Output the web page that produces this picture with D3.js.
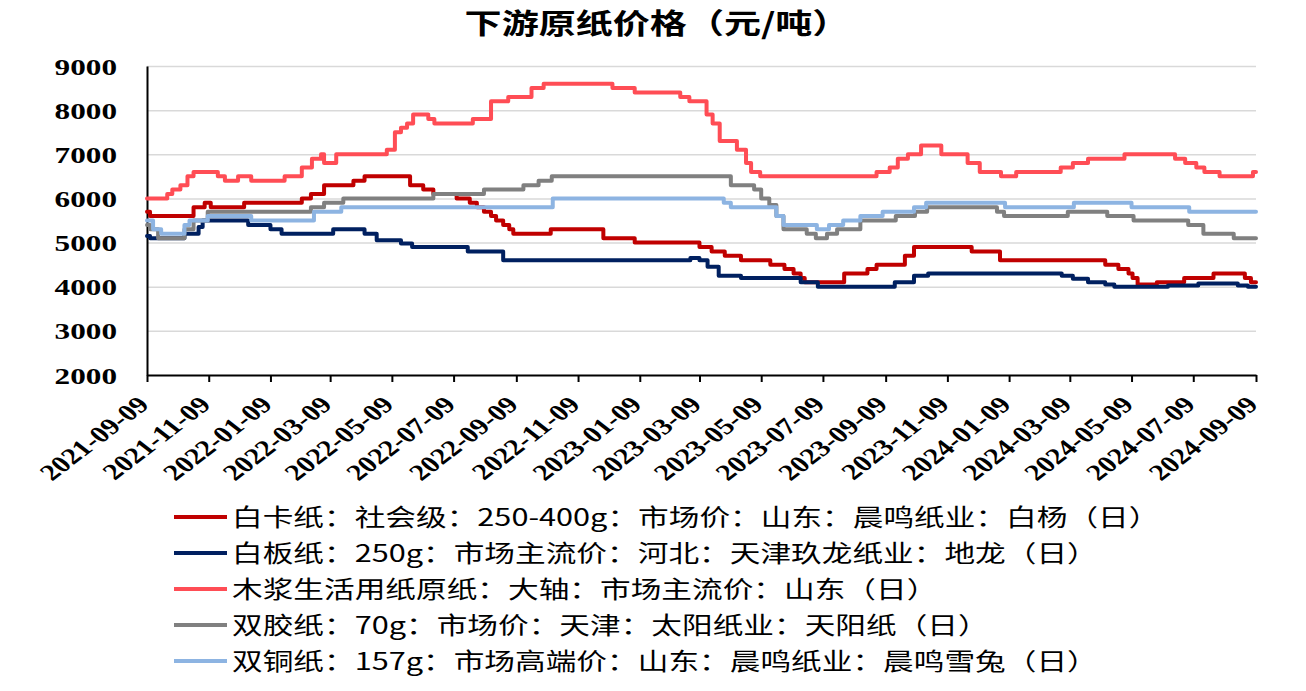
<!DOCTYPE html>
<html><head><meta charset="utf-8">
<script src="https://cdn.jsdelivr.net/npm/d3@7"></script>
<style>
html,body{margin:0;padding:0;background:#fff;}
svg{display:block;}
</style></head>
<body>
<svg id="chart" width="1306" height="691"></svg>
<script>
// ---------- data ----------
const chartTitle = "下游原纸价格（元/吨）";
const yTicks = [2000, 3000, 4000, 5000, 6000, 7000, 8000, 9000];
const xTickLabels = ["2021-09-09","2021-11-09","2022-01-09","2022-03-09","2022-05-09","2022-07-09",
  "2022-09-09","2022-11-09","2023-01-09","2023-03-09","2023-05-09","2023-07-09","2023-09-09",
  "2023-11-09","2024-01-09","2024-03-09","2024-05-09","2024-07-09","2024-09-09"];
const seriesNames = [
  "白卡纸：社会级：250-400g：市场价：山东：晨鸣纸业：白杨（日）",
  "白板纸：250g：市场主流价：河北：天津玖龙纸业：地龙（日）",
  "木浆生活用纸原纸：大轴：市场主流价：山东（日）",
  "双胶纸：70g：市场价：天津：太阳纸业：天阳纸（日）",
  "双铜纸：157g：市场高端价：山东：晨鸣纸业：晨鸣雪兔（日）"
];
const seriesColors = ["#C00000", "#002060", "#FF4D55", "#808080", "#8DB4E2"];

// step-change points [date, price]
const whiteCard = [
  ["2021-09-09",5700],["2021-09-12",5600],["2021-10-25",5800],["2021-11-05",5900],["2021-11-11",5800],
  ["2021-12-14",5900],["2022-02-09",6000],["2022-02-18",6100],["2022-03-03",6300],["2022-04-01",6400],
  ["2022-04-12",6500],["2022-05-27",6300],["2022-06-09",6200],["2022-06-19",6100],["2022-07-12",6000],
  ["2022-07-25",5900],["2022-08-01",5800],["2022-08-08",5700],["2022-08-15",5600],["2022-08-20",5500],
  ["2022-08-27",5400],["2022-09-02",5300],["2022-09-06",5200],["2022-10-13",5300],["2022-12-04",5100],
  ["2023-01-04",5000],["2023-03-09",4900],["2023-03-21",4800],["2023-04-03",4700],["2023-04-19",4600],
  ["2023-05-18",4500],["2023-06-01",4400],["2023-06-10",4300],["2023-06-17",4200],["2023-06-21",4100],
  ["2023-07-30",4300],["2023-08-22",4400],["2023-08-31",4500],["2023-09-28",4700],["2023-10-07",4900],
  ["2023-12-03",4800],["2023-12-31",4600],["2024-04-13",4500],["2024-04-26",4400],["2024-05-06",4300],
  ["2024-05-10",4200],["2024-05-15",4050],["2024-06-03",4100],["2024-06-30",4200],["2024-07-29",4300],
  ["2024-08-29",4200],["2024-09-04",4100],["2024-09-09",4100]
];
const whiteBoard = [
  ["2021-09-09",5150],["2021-09-12",5100],["2021-10-16",5200],["2021-10-30",5350],["2021-11-03",5500],
  ["2021-12-18",5400],["2022-01-09",5300],["2022-01-20",5200],["2022-03-12",5300],["2022-04-12",5200],
  ["2022-04-24",5050],["2022-05-18",4980],["2022-05-29",4900],["2022-07-23",4800],["2022-08-27",4600],
  ["2023-02-28",4650],["2023-03-09",4600],["2023-03-17",4450],["2023-03-28",4250],["2023-04-19",4200],
  ["2023-06-17",4100],["2023-07-04",4000],["2023-09-18",4100],["2023-10-07",4250],["2023-10-21",4300],
  ["2024-03-01",4250],["2024-03-12",4180],["2024-03-27",4100],["2024-04-13",4050],["2024-04-22",4000],
  ["2024-06-14",4030],["2024-07-14",4070],["2024-08-22",4030],["2024-09-01",4000],["2024-09-09",4000]
];
const pulpTissue = [
  ["2021-09-09",6000],["2021-09-29",6100],["2021-10-04",6200],["2021-10-12",6300],["2021-10-19",6500],
  ["2021-10-25",6600],["2021-11-18",6500],["2021-11-25",6400],["2021-12-08",6500],["2021-12-21",6400],
  ["2022-01-23",6500],["2022-02-09",6700],["2022-02-19",6900],["2022-02-28",7000],["2022-03-03",6800],
  ["2022-03-15",7000],["2022-05-04",7100],["2022-05-12",7500],["2022-05-18",7600],["2022-05-24",7700],
  ["2022-05-30",7900],["2022-06-14",7800],["2022-06-20",7700],["2022-07-28",7800],["2022-08-15",8200],
  ["2022-09-01",8300],["2022-09-24",8500],["2022-10-06",8600],["2022-12-13",8500],["2023-01-04",8400],
  ["2023-02-18",8300],["2023-02-27",8200],["2023-03-16",7900],["2023-03-22",7700],["2023-03-29",7300],
  ["2023-04-15",7100],["2023-04-24",6800],["2023-04-29",6600],["2023-05-08",6500],["2023-08-31",6600],
  ["2023-09-13",6700],["2023-09-21",6900],["2023-10-01",7000],["2023-10-14",7200],["2023-11-03",7000],
  ["2023-11-29",6800],["2023-12-11",6600],["2024-01-01",6500],["2024-01-16",6600],["2024-02-29",6700],
  ["2024-03-12",6800],["2024-03-27",6900],["2024-05-02",7000],["2024-06-21",6900],["2024-07-01",6800],
  ["2024-07-12",6700],["2024-07-20",6600],["2024-08-04",6500],["2024-09-06",6600],["2024-09-09",6600]
];
const woodfree = [
  ["2021-09-09",5400],["2021-09-12",5300],["2021-09-20",5100],["2021-10-16",5300],["2021-10-25",5500],
  ["2021-11-08",5700],["2022-02-18",5800],["2022-03-03",5900],["2022-03-22",6000],["2022-06-19",6100],
  ["2022-08-08",6200],["2022-09-16",6300],["2022-10-01",6400],["2022-10-14",6500],["2023-04-09",6300],
  ["2023-05-02",6200],["2023-05-09",6000],["2023-05-17",5850],["2023-05-24",5600],["2023-05-31",5300],
  ["2023-06-23",5200],["2023-07-02",5100],["2023-07-13",5200],["2023-07-23",5300],["2023-08-15",5500],
  ["2023-09-19",5600],["2023-10-08",5700],["2023-10-20",5800],["2023-12-28",5700],["2024-01-04",5600],
  ["2024-03-07",5700],["2024-04-15",5600],["2024-05-11",5500],["2024-07-04",5400],["2024-07-19",5200],
  ["2024-08-18",5100],["2024-09-09",5100]
];
const coated = [
  ["2021-09-09",5500],["2021-09-15",5300],["2021-09-23",5200],["2021-10-16",5400],["2021-10-21",5500],
  ["2021-11-08",5600],["2021-12-21",5500],["2022-02-21",5700],["2022-03-20",5800],["2022-10-15",6000],
  ["2023-04-02",5900],["2023-04-09",5800],["2023-05-24",5600],["2023-05-31",5400],["2023-07-03",5300],
  ["2023-07-15",5400],["2023-07-29",5500],["2023-08-15",5600],["2023-09-06",5700],["2023-10-07",5800],
  ["2023-10-19",5900],["2024-01-05",5800],["2024-03-13",5900],["2024-05-09",5800],["2024-07-05",5700],
  ["2024-09-09",5700]
];
const seriesData = [whiteCard, whiteBoard, pulpTissue, woodfree, coated];

// ---------- drawing ----------
const svg = d3.select("#chart");
const parse = d3.timeParse("%Y-%m-%d");
const SX = 1.3; // horizontal stretch of the reference text
const plotL = 147, plotR = 1256, plotT = 66, plotB = 375;

const x = d3.scaleTime().domain([parse(xTickLabels[0]), parse(xTickLabels[xTickLabels.length-1])]).range([plotL, plotR]);
const y = d3.scaleLinear().domain([2000, 9000]).range([plotB, plotT]);

// title
svg.append("text")
  .attr("transform", `translate(657,34) scale(${SX},1)`)
  .attr("text-anchor", "middle")
  .style("font-family", "'Noto Sans CJK SC', sans-serif")
  .style("font-weight", 700)
  .style("font-size", "28.5px")
  .attr("fill", "#000")
  .text(chartTitle);

// gridlines
const grid = svg.append("g").attr("transform", `translate(${plotL},0)`)
  .call(d3.axisLeft(y).tickValues(yTicks.slice(1)).tickSize(-(plotR-plotL)).tickFormat(""));
grid.select(".domain").remove();
grid.selectAll("line").attr("stroke", "#d9d9d9").attr("stroke-width", 1.5);

// y axis
const yAxis = svg.append("g").attr("transform", `translate(${plotL},0)`)
  .call(d3.axisLeft(y).tickValues(yTicks).tickFormat(d3.format("d")).tickSize(0).tickPadding(0));
yAxis.select(".domain").attr("stroke", "#000").attr("stroke-width", 2);
yAxis.selectAll("text")
  .attr("x", null).attr("dy", null)
  .attr("transform", `translate(-30,8) scale(${SX},1)`)
  .attr("text-anchor", "end")
  .style("font-family", "'Liberation Serif','Times New Roman',serif")
  .style("font-weight", 700)
  .style("font-size", "24px")
  .attr("fill", "#000");

// lines
const line = d3.line()
  .x(d => x(parse(d[0])))
  .y(d => y(d[1]))
  .curve(d3.curveStepAfter);

const gLines = svg.append("g");
seriesData.forEach((s, i) => {
  gLines.append("path")
    .datum(s)
    .attr("d", line)
    .attr("fill", "none")
    .attr("stroke", seriesColors[i])
    .attr("stroke-width", 4)
    .attr("stroke-linejoin", "round")
    .attr("stroke-linecap", "round");
});

// x axis
const xAxis = svg.append("g").attr("transform", `translate(0,${plotB})`)
  .call(d3.axisBottom(x).tickValues(xTickLabels.map(parse))
    .tickFormat(d3.timeFormat("%Y-%m-%d")).tickSize(7).tickSizeOuter(0));
xAxis.select(".domain").attr("stroke", "#000").attr("stroke-width", 2);
xAxis.selectAll(".tick line").attr("stroke", "#000").attr("stroke-width", 2);
xAxis.selectAll("text")
  .attr("y", null).attr("dy", null)
  .attr("transform", `translate(3,31) scale(${SX},1) rotate(-45)`)
  .attr("text-anchor", "end")
  .style("font-family", "'Liberation Serif','Times New Roman',serif")
  .style("font-weight", 700)
  .style("font-size", "23px")
  .attr("fill", "#000");

// legend
const legend = svg.append("g");
seriesNames.forEach((name, i) => {
  const cy = 517 + i * 36;
  legend.append("line")
    .attr("x1", 174).attr("x2", 227).attr("y1", cy).attr("y2", cy)
    .attr("stroke", seriesColors[i]).attr("stroke-width", 4);
  legend.append("text")
    .attr("transform", `translate(232,${cy + 9}) scale(${SX},1)`)
    .style("font-family", "'Noto Sans CJK SC', sans-serif")
    .style("font-size", "23.6px")
    .attr("fill", "#000")
    .text(name);
});
</script>
</body></html>
